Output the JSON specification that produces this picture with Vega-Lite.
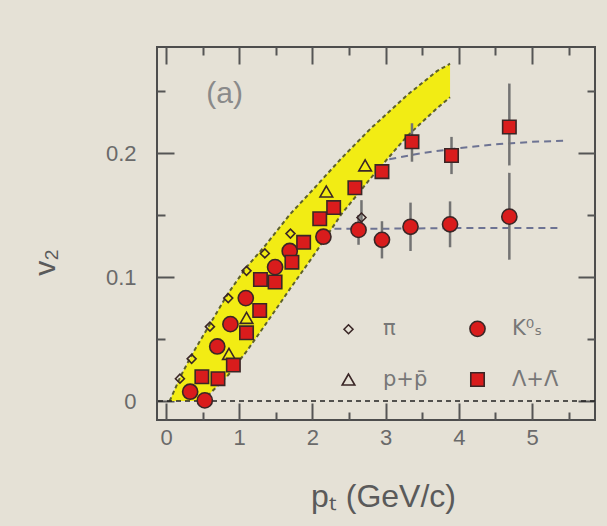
{
  "$schema": "https://vega.github.io/schema/vega-lite/v6.json",
  "width": 438,
  "height": 373,
  "autosize": {"type": "none"},
  "padding": {"left": 157, "top": 47, "right": 12, "bottom": 106},
  "background": "#e5e1d6",
  "config": {
    "view": {"stroke": "#4d4d4d", "strokeWidth": 2, "fill": "#e5e1d6"},
    "axis": {
      "domain": false,
      "grid": false,
      "tickColor": "#555555",
      "tickWidth": 2,
      "labelColor": "#6a6a6a",
      "labelFont": "Liberation Sans",
      "labelFontSize": 22,
      "titleFont": "Liberation Sans",
      "titleColor": "#5a5a5a",
      "titleFontWeight": "normal"
    }
  },
  "datasets": {
    "pts": [
      {"sp": "π", "pt": 0.19, "v2": 0.018},
      {"sp": "π", "pt": 0.35, "v2": 0.034},
      {"sp": "π", "pt": 0.60, "v2": 0.060},
      {"sp": "π", "pt": 0.85, "v2": 0.083},
      {"sp": "π", "pt": 1.10, "v2": 0.105},
      {"sp": "π", "pt": 1.35, "v2": 0.119},
      {"sp": "π", "pt": 1.70, "v2": 0.135},
      {"sp": "π", "pt": 2.67, "v2": 0.148},
      {"sp": "p+p̄", "pt": 0.86, "v2": 0.038},
      {"sp": "p+p̄", "pt": 1.10, "v2": 0.067},
      {"sp": "p+p̄", "pt": 2.19, "v2": 0.169},
      {"sp": "p+p̄", "pt": 2.72, "v2": 0.190},
      {"sp": "K⁰ₛ", "pt": 0.33, "v2": 0.0075},
      {"sp": "K⁰ₛ", "pt": 0.53, "v2": 0.0005},
      {"sp": "K⁰ₛ", "pt": 0.70, "v2": 0.044},
      {"sp": "K⁰ₛ", "pt": 0.88, "v2": 0.062},
      {"sp": "K⁰ₛ", "pt": 1.09, "v2": 0.083},
      {"sp": "K⁰ₛ", "pt": 1.49, "v2": 0.108},
      {"sp": "K⁰ₛ", "pt": 1.69, "v2": 0.121},
      {"sp": "K⁰ₛ", "pt": 2.15, "v2": 0.1325},
      {"sp": "K⁰ₛ", "pt": 2.63, "v2": 0.138},
      {"sp": "K⁰ₛ", "pt": 2.95, "v2": 0.130},
      {"sp": "K⁰ₛ", "pt": 3.34, "v2": 0.1405},
      {"sp": "K⁰ₛ", "pt": 3.88, "v2": 0.1425},
      {"sp": "K⁰ₛ", "pt": 4.69, "v2": 0.1487},
      {"sp": "Λ+Λ̄", "pt": 0.49, "v2": 0.0196},
      {"sp": "Λ+Λ̄", "pt": 0.71, "v2": 0.018},
      {"sp": "Λ+Λ̄", "pt": 0.92, "v2": 0.029},
      {"sp": "Λ+Λ̄", "pt": 1.10, "v2": 0.055},
      {"sp": "Λ+Λ̄", "pt": 1.28, "v2": 0.073},
      {"sp": "Λ+Λ̄", "pt": 1.29, "v2": 0.098},
      {"sp": "Λ+Λ̄", "pt": 1.49, "v2": 0.096},
      {"sp": "Λ+Λ̄", "pt": 1.72, "v2": 0.112},
      {"sp": "Λ+Λ̄", "pt": 1.88, "v2": 0.128},
      {"sp": "Λ+Λ̄", "pt": 2.10, "v2": 0.147},
      {"sp": "Λ+Λ̄", "pt": 2.29, "v2": 0.156},
      {"sp": "Λ+Λ̄", "pt": 2.58, "v2": 0.172},
      {"sp": "Λ+Λ̄", "pt": 2.95, "v2": 0.185},
      {"sp": "Λ+Λ̄", "pt": 3.36, "v2": 0.209},
      {"sp": "Λ+Λ̄", "pt": 3.90, "v2": 0.198},
      {"sp": "Λ+Λ̄", "pt": 4.69, "v2": 0.221}
    ],
    "err": [
      {"pt": 2.63, "lo": 0.126, "hi": 0.150},
      {"pt": 2.95, "lo": 0.115, "hi": 0.145},
      {"pt": 3.34, "lo": 0.121, "hi": 0.160},
      {"pt": 3.88, "lo": 0.124, "hi": 0.161},
      {"pt": 4.69, "lo": 0.114, "hi": 0.184},
      {"pt": 3.36, "lo": 0.193, "hi": 0.224},
      {"pt": 3.90, "lo": 0.183, "hi": 0.213},
      {"pt": 4.69, "lo": 0.190, "hi": 0.256},
      {"pt": 2.67, "lo": 0.136, "hi": 0.162}
    ],
    "band": [
      {"pt": 0.05, "lo": 0.0, "hi": 0.0},
      {"pt": 0.2, "lo": 0.0, "hi": 0.02},
      {"pt": 0.35, "lo": 0.0, "hi": 0.037},
      {"pt": 0.5, "lo": 0.0, "hi": 0.052},
      {"pt": 0.6, "lo": 0.006, "hi": 0.062},
      {"pt": 0.85, "lo": 0.021, "hi": 0.087},
      {"pt": 1.1, "lo": 0.04, "hi": 0.108},
      {"pt": 1.35, "lo": 0.061, "hi": 0.125},
      {"pt": 1.7, "lo": 0.091, "hi": 0.151},
      {"pt": 2.0, "lo": 0.116, "hi": 0.17},
      {"pt": 2.4, "lo": 0.151, "hi": 0.196},
      {"pt": 2.8, "lo": 0.18, "hi": 0.22},
      {"pt": 3.3, "lo": 0.214, "hi": 0.247},
      {"pt": 3.7, "lo": 0.236, "hi": 0.266},
      {"pt": 3.88, "lo": 0.245, "hi": 0.272}
    ],
    "fits": [
      {"sp": "K", "pt": 2.3, "v2": 0.139},
      {"sp": "K", "pt": 3.0, "v2": 0.139},
      {"sp": "K", "pt": 4.0, "v2": 0.1395},
      {"sp": "K", "pt": 5.38, "v2": 0.1395},
      {"sp": "L", "pt": 3.05, "v2": 0.195},
      {"sp": "L", "pt": 3.5, "v2": 0.2},
      {"sp": "L", "pt": 4.0, "v2": 0.204},
      {"sp": "L", "pt": 4.5, "v2": 0.207},
      {"sp": "L", "pt": 5.0, "v2": 0.209},
      {"sp": "L", "pt": 5.48, "v2": 0.21}
    ]
  },
  "layer": [
    {
      "data": {"name": "band"},
      "mark": {"type": "area", "color": "#f2ec14", "opacity": 1},
      "encoding": {
        "x": {
          "field": "pt", "type": "quantitative",
          "scale": {"domain": [-0.123, 5.86], "nice": false, "zero": false},
          "axis": {
            "orient": "top", "title": null, "labels": false,
            "values": [0, 0.5, 1, 1.5, 2, 2.5, 3, 3.5, 4, 4.5, 5, 5.5],
            "tickSize": {"condition": {"test": "datum.value % 1 != 0", "value": -8}, "value": -17}
          }
        },
        "y": {
          "field": "hi", "type": "quantitative",
          "scale": {"domain": [-0.0153, 0.2855], "nice": false, "zero": false},
          "axis": {
            "orient": "right", "title": null, "labels": false,
            "values": [0, 0.05, 0.1, 0.15, 0.2, 0.25],
            "tickSize": {"condition": {"test": "round(datum.value*20) % 2 == 1", "value": -8}, "value": -17}
          }
        },
        "y2": {"field": "lo"}
      }
    },
    {
      "data": {"name": "band"},
      "mark": {"type": "line", "color": "#5d602c", "strokeWidth": 2, "strokeDash": [4, 3]},
      "encoding": {
        "x": {"field": "pt", "type": "quantitative", "axis": null},
        "y": {"field": "hi", "type": "quantitative", "axis": null}
      }
    },
    {
      "data": {"name": "band"},
      "transform": [{"filter": "datum.pt >= 0.5"}],
      "mark": {"type": "line", "color": "#5d602c", "strokeWidth": 2, "strokeDash": [4, 3]},
      "encoding": {
        "x": {"field": "pt", "type": "quantitative", "axis": null},
        "y": {"field": "lo", "type": "quantitative", "axis": null}
      }
    },
    {
      "data": {"name": "fits"},
      "mark": {"type": "line", "color": "#6d7393", "strokeWidth": 2, "strokeDash": [7, 5]},
      "encoding": {
        "x": {"field": "pt", "type": "quantitative", "axis": null},
        "y": {"field": "v2", "type": "quantitative", "axis": null},
        "detail": {"field": "sp"}
      }
    },
    {
      "data": {"values": [{}]},
      "mark": {"type": "rule", "color": "#222222", "strokeWidth": 1.5, "strokeDash": [5, 4]},
      "encoding": {
        "y": {"datum": 0, "type": "quantitative", "axis": null}
      }
    },
    {
      "data": {"name": "err"},
      "mark": {"type": "rule", "color": "#737373", "strokeWidth": 2.5},
      "encoding": {
        "x": {"field": "pt", "type": "quantitative", "axis": null},
        "y": {"field": "lo", "type": "quantitative", "axis": null},
        "y2": {"field": "hi"}
      }
    },
    {
      "data": {"name": "pts"},
      "mark": {"type": "point", "filled": true, "stroke": "#3a2626", "strokeWidth": 1.6, "opacity": 1},
      "encoding": {
        "x": {
          "field": "pt", "type": "quantitative",
          "axis": {
            "orient": "bottom",
            "title": "pₜ (GeV/c)",
            "titleFontSize": 32,
            "titleX": 226,
            "titleY": 76,
            "titleAlign": "center",
            "titleBaseline": "middle",
            "format": "~g",
            "values": [0, 0.5, 1, 1.5, 2, 2.5, 3, 3.5, 4, 4.5, 5, 5.5],
            "labelExpr": "datum.value % 1 != 0 ? '' : datum.label",
            "labelPadding": 24,
            "tickSize": {"condition": {"test": "datum.value % 1 != 0", "value": -8}, "value": -17}
          }
        },
        "y": {
          "field": "v2", "type": "quantitative",
          "axis": {
            "orient": "left",
            "title": "v₂",
            "titleFontSize": 30,
            "titleX": -112,
            "titleY": 215,
            "titleAlign": "center",
            "titleBaseline": "middle",
            "format": "~g",
            "values": [0, 0.05, 0.1, 0.15, 0.2, 0.25],
            "labelExpr": "round(datum.value*20) % 2 == 1 ? '' : datum.label",
            "labelPadding": 38,
            "tickSize": {"condition": {"test": "round(datum.value*20) % 2 == 1", "value": -8}, "value": -17}
          }
        },
        "shape": {
          "field": "sp", "type": "nominal",
          "scale": {"domain": ["π", "p+p̄", "K⁰ₛ", "Λ+Λ̄"], "range": ["diamond", "triangle-up", "circle", "square"]},
          "legend": {
            "orient": "none", "legendX": 181, "legendY": 271, "columns": 2,
            "title": null, "labelFontSize": 21, "labelColor": "#777777", "labelFont": "DejaVu Sans",
            "rowPadding": 28, "columnPadding": 38, "labelOffset": 24,
            "symbolStrokeColor": "#333333", "symbolStrokeWidth": 1.6
          }
        },
        "fill": {
          "field": "sp", "type": "nominal",
          "scale": {"domain": ["π", "p+p̄", "K⁰ₛ", "Λ+Λ̄"], "range": ["transparent", "transparent", "#d91c1c", "#d91c1c"]}
        },
        "size": {
          "field": "sp", "type": "nominal",
          "scale": {"type": "ordinal", "domain": ["π", "p+p̄", "K⁰ₛ", "Λ+Λ̄"], "range": [80, 160, 230, 180]}
        }
      }
    },
    {
      "data": {"values": [{"label": "(a)"}]},
      "mark": {"type": "text", "fontSize": 30, "color": "#8a8a8a", "font": "Liberation Sans", "align": "center", "baseline": "middle"},
      "encoding": {
        "x": {"datum": 0.8, "type": "quantitative", "axis": null},
        "y": {"datum": 0.248, "type": "quantitative", "axis": null},
        "text": {"field": "label"}
      }
    }
  ],
  "resolve": {"axis": {"x": "independent", "y": "independent"}}
}
